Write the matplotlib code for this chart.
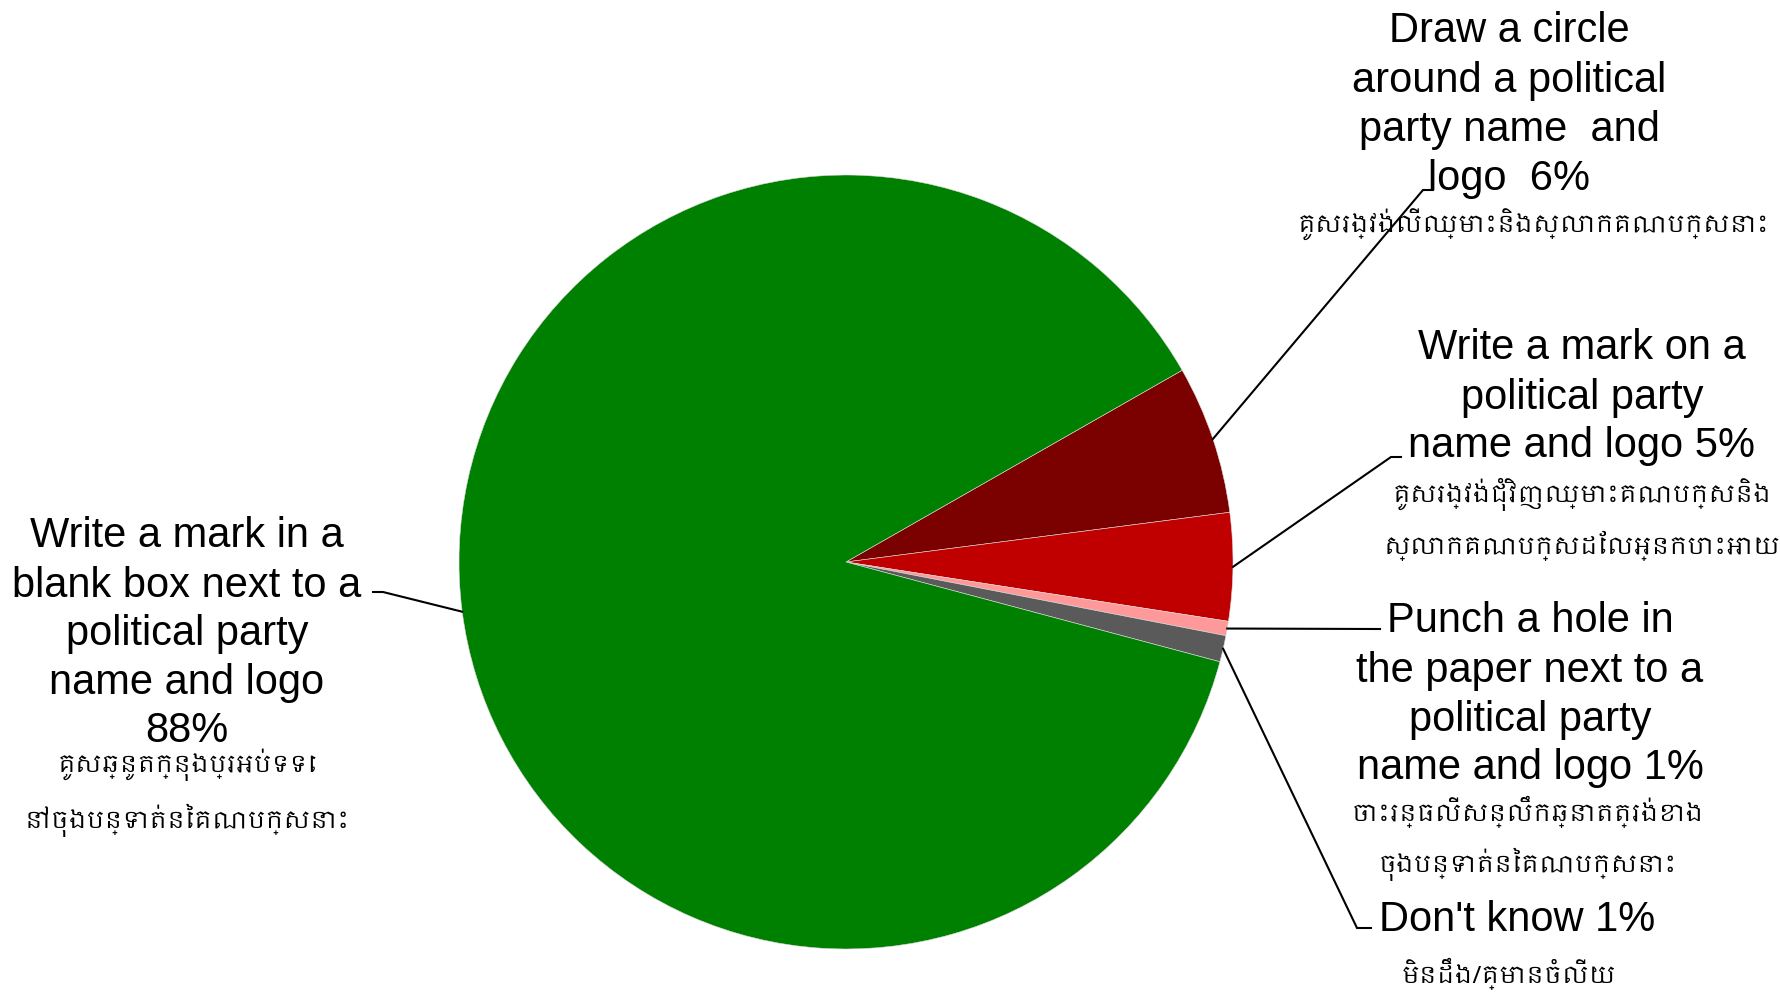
import numpy as np
import matplotlib
matplotlib.use("Agg")
import matplotlib.pyplot as plt
from matplotlib import font_manager as fm

# ---- data ----
categories_en = [
    ["Draw a circle", "around a political", "party name  and", "logo  6%"],
    ["Write a mark on a", "political party", "name and logo 5%"],
    ["Punch a hole in", "the paper next to a", "political party", "name and logo 1%"],
    ["Don't know 1%"],
    ["Write a mark in a", "blank box next to a", "political party", "name and logo", "88%"],
]
categories_km = [
    ["គូសរង្វង់លើឈ្មោះនិងស្លាកគណបក្សនោះ"],
    ["គូសរង្វង់ជុំវិញឈ្មោះគណបក្សនិង", "ស្លាកគណបក្សដែលអ្នកបោះអោយ"],
    ["ចោះរន្ធលើសន្លឹកឆ្នោតត្រង់ខាង", "ចុងបន្ទាត់នៃគណបក្សនោះ"],
    ["មិនដឹង/គ្មានចំលើយ"],
    ["គូសឆ្នូតក្នុងប្រអប់ទទេ", "នៅចុងបន្ទាត់នៃគណបក្សនោះ"],
]
values = [6.2, 4.5, 0.6, 1.1, 87.6]
colors = ["#7B0000", "#C00000", "#FF9999", "#5A5A5A", "#008000"]

# ---- fonts ----
khmer = [f.name for f in fm.fontManager.ttflist if "khmer" in f.name.lower()]
en_family = ["Liberation Sans", "DejaVu Sans"]
km_family = (khmer[:1] if khmer else []) + ["Liberation Sans", "DejaVu Sans"]

W, H = 1781, 995
fig = plt.figure(figsize=(W / 100, H / 100), dpi=100)
ax = fig.add_axes([0, 0, 1, 1])

cx, cy, R = 846, H - 563, 387
wedges, _ = ax.pie(values, colors=colors, startangle=29.7, counterclock=False,
                   center=(cx, cy), radius=R, frame=True,
                   wedgeprops=dict(linewidth=0.4, edgecolor="#dddddd"))
ax.set_xlim(0, W)
ax.set_ylim(0, H)
ax.set_aspect("equal")
ax.axis("off")

# ---- label layout (pixel coords, y from top) ----
en_pos = [(1509, [31, 81, 130, 179]),
          (1582, [348, 398, 446]),
          (1530, [621, 671, 720, 768]),
          (1517, [920]),
          (187, [536, 586, 634, 683, 731])]
km_pos = [(1534, [225]),
          (1582, [494, 546]),
          (1528, [812, 864]),
          (1509, [974]),
          (187, [765, 820])]
elbows = [((1423, 191), (1433, 191)),
          ((1391, 458), (1401, 458)),
          ((1376, 630), (1380, 630)),
          ((1357, 929), (1371, 929)),
          ((383, 593), (373, 593))]

for i, w in enumerate(wedges):
    x, ys = en_pos[i]
    for line, y in zip(categories_en[i], ys):
        ax.text(x, H - y, line, ha="center", va="center", fontsize=30,
                family=en_family, color="black")
    x, ys = km_pos[i]
    for line, y in zip(categories_km[i], ys):
        ax.text(x, H - y, line, ha="center", va="center", fontsize=17,
                family=km_family, color="black")
    mid = np.deg2rad((w.theta1 + w.theta2) / 2)
    sx, sy = cx + R * np.cos(mid), cy + R * np.sin(mid)
    (ex, ey), (hx, hy) = elbows[i]
    ax.plot([sx, ex, hx], [sy, H - ey, H - hy], color="black", lw=1.5,
            solid_joinstyle="miter")

fig.savefig("out.png", dpi=100, facecolor="white")
